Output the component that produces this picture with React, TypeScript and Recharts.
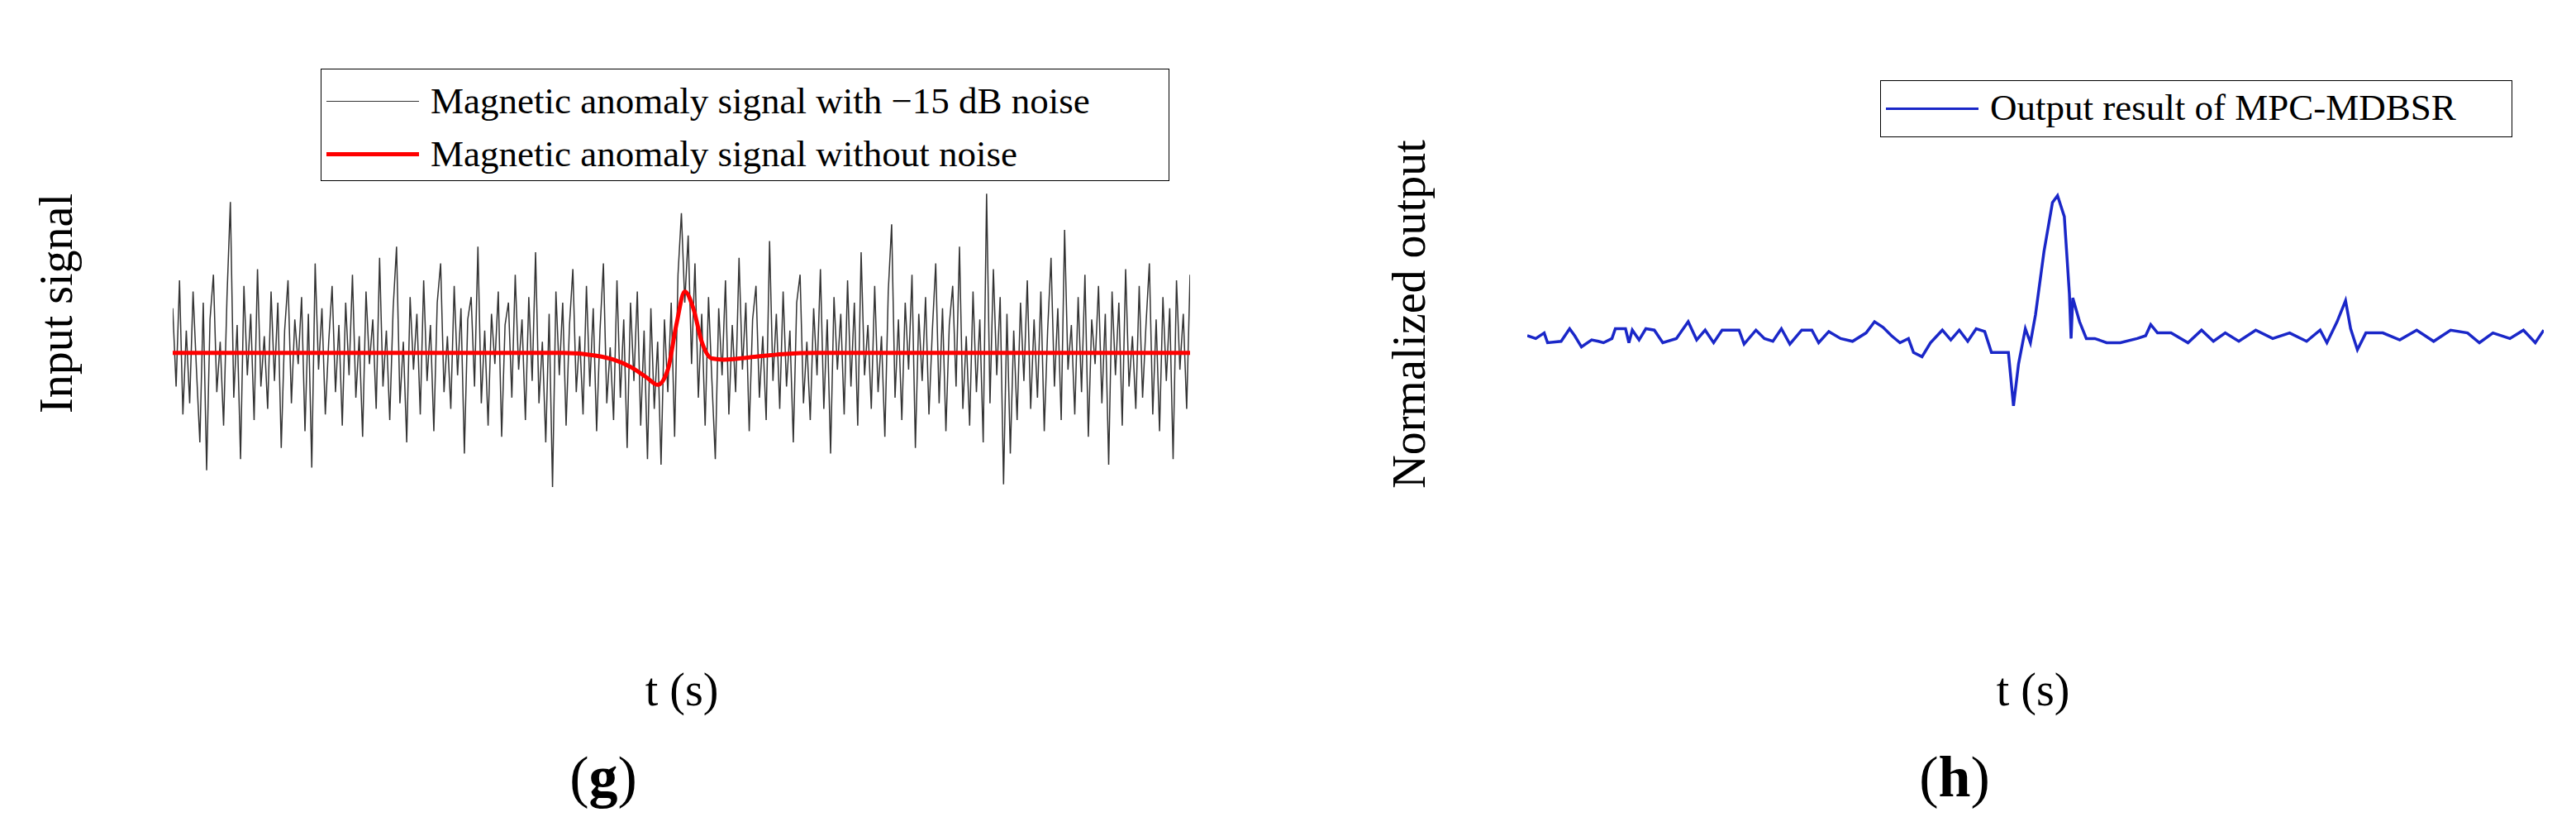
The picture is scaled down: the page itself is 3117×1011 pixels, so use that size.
import { LineChart, Line, XAxis, YAxis } from 'recharts';

// noisy input, sampled every 0.02 s from t = 2 s
const noiseValues = [
  0.8,-0.6,1.3,-1.1,0.4,-0.9,1.1,-0.3,-1.6,0.9,
  -2.1,0.6,1.4,-0.7,0.2,-1.3,1.0,2.7,-0.8,0.5,
  -1.9,1.2,-0.4,0.7,-1.2,1.5,-0.6,0.3,-1.0,1.1,
  -0.5,0.9,-1.7,0.4,1.3,-0.9,0.6,-0.2,1.0,-1.4,
  0.7,-2.05,1.6,-0.3,0.8,-1.1,0.2,1.2,-0.7,0.5,
  -1.3,0.9,-0.4,1.4,-0.8,0.3,-1.5,1.1,-0.2,0.6,
  -1.0,1.7,-0.6,0.4,-1.2,0.8,1.9,-0.9,0.2,-1.6,
  1.0,-0.3,0.7,-1.1,1.3,-0.5,0.5,-1.4,0.9,1.6,
  -0.7,0.3,-1.0,1.2,-0.4,0.8,-1.8,0.6,1.0,-0.6,
  1.9,-0.9,0.4,-1.3,0.7,-0.2,1.1,-1.5,0.5,0.9,
  -0.8,1.4,-0.3,0.6,-1.2,1.0,-0.5,1.8,-0.9,0.2,
  -1.6,0.7,-2.4,1.1,-0.4,0.9,-1.3,0.5,1.5,-0.7,
  0.3,-1.1,1.2,-0.6,0.8,-1.4,0.4,1.6,-0.9,0.1,
  -1.2,1.3,-0.8,0.6,-1.7,0.9,-0.5,1.1,-1.3,0.4,
  -1.9,0.8,-1.0,0.2,-2.0,0.6,-0.7,0.9,-1.5,1.4,
  2.5,0.9,2.1,-0.2,1.6,-0.8,0.7,-1.3,1.0,-0.5,
  -1.9,0.8,-0.4,1.3,-1.1,0.5,-0.7,1.7,-0.3,0.9,
  -1.4,0.6,1.2,-0.8,0.3,-1.2,2.0,-0.5,0.7,-1.0,
  1.1,-0.6,0.4,-1.6,0.9,1.4,-0.9,0.2,-1.2,0.8,
  -0.4,1.5,-1.0,0.6,-1.8,1.0,-0.3,0.7,-1.1,1.3,
  -0.6,0.9,-1.3,1.8,-0.4,0.5,-1.0,1.2,-0.7,0.3,
  -1.5,1.1,2.3,-0.8,0.6,-1.2,0.9,-0.3,1.4,-1.7,
  0.7,-0.5,1.0,-1.1,0.4,1.6,-0.9,0.8,-1.4,0.5,
  1.2,-0.6,1.9,-1.0,0.3,-1.3,1.1,-0.7,0.6,-1.6,
  2.85,-0.9,1.5,-0.4,1.0,-2.35,0.7,-1.8,0.4,-1.2,
  0.9,-0.5,1.3,-1.0,0.6,-0.8,1.1,-1.4,0.4,1.7,
  -0.6,0.8,-1.2,2.2,-0.3,0.5,-1.1,1.0,-0.7,1.4,
  -1.5,0.6,-0.2,1.2,-0.9,0.7,-2.0,1.1,-0.4,0.9,
  -1.3,1.5,-0.6,0.3,-1.0,1.2,-0.8,0.5,1.6,-1.1,
  0.6,-1.4,1.0,-0.5,0.8,-1.9,1.3,-0.3,0.7,-1.0,
  1.4,
];

const cleanT = [2, 4.3, 4.5, 4.6, 4.7, 4.8, 4.86, 4.92, 4.97, 5.02, 5.07, 5.12, 5.18, 5.25, 5.4, 5.6, 5.8, 8];
const cleanV = [0, 0, -0.05, -0.12, -0.25, -0.45, -0.57, -0.3, 0.5, 1.1, 0.8, 0.2, -0.1, -0.12, -0.08, -0.02, 0, 0];

const outT = [2.0,2.05,2.1,2.12,2.2,2.25,2.28,2.32,2.38,2.42,2.45,2.5,2.52,2.58,2.6,2.62,2.66,2.7,2.75,2.8,2.88,2.95,3.0,3.05,3.1,3.15,3.25,3.28,3.35,3.4,3.45,3.5,3.55,3.62,3.68,3.72,3.78,3.85,3.92,4.0,4.05,4.1,4.15,4.2,4.25,4.28,4.33,4.38,4.45,4.5,4.55,4.6,4.65,4.7,4.74,4.8,4.84,4.87,4.9,4.94,4.97,5.0,5.05,5.1,5.13,5.17,5.2,5.21,5.22,5.26,5.3,5.35,5.42,5.5,5.6,5.65,5.68,5.72,5.8,5.9,5.98,6.05,6.12,6.2,6.3,6.4,6.5,6.6,6.68,6.72,6.78,6.83,6.86,6.9,6.95,7.05,7.15,7.25,7.35,7.45,7.55,7.62,7.7,7.8,7.88,7.95,8.0];
const outV = [0,-0.02,0.02,-0.05,-0.04,0.05,0,-0.08,-0.03,-0.04,-0.05,-0.02,0.05,0.05,-0.05,0.04,-0.03,0.05,0.04,-0.05,-0.02,0.1,-0.03,0.04,-0.05,0.04,0.04,-0.06,0.04,-0.02,-0.04,0.05,-0.06,0.04,0.04,-0.05,0.03,-0.02,-0.04,0.02,0.1,0.06,0,-0.05,-0.02,-0.12,-0.15,-0.05,0.04,-0.03,0.04,-0.04,0.05,0.03,-0.12,-0.12,-0.12,-0.5,-0.2,0.05,-0.05,0.15,0.6,0.95,1.0,0.85,0.3,-0.02,0.27,0.1,-0.02,-0.02,-0.05,-0.05,-0.02,0,0.08,0.02,0.02,-0.05,0.04,-0.04,0.02,-0.04,0.04,-0.02,0.02,-0.04,0.04,-0.05,0.1,0.25,0.05,-0.1,0.02,0.02,-0.03,0.04,-0.04,0.04,0.02,-0.05,0.02,-0.02,0.04,-0.05,0.04];

const xTicks = [2, 3, 4, 5, 6, 7, 8];
const leftYTicks = [-4, -3, -2, -1, 0, 1, 2, 3, 4, 5];
const rightYTicks = [-2, -1.5, -1, -0.5, 0, 0.5, 1, 1.5, 2];

const noiseData = noiseValues.map((v, i) => ({ t: 2 + i * 0.02, v }));
const cleanData = cleanT.map((t, i) => ({ t, v: cleanV[i] }));
const outData = outT.map((t, i) => ({ t, v: outV[i] }));

const FONT = '"Liberation Serif", "DejaVu Serif", serif';
const minus = (n: number) => (n < 0 ? '\u2212' + Math.abs(n) : String(n));

function makeTick(side: 'bottom' | 'top' | 'left' | 'right', isMajor: (v: number) => boolean, showLabel: boolean) {
  return (props: any) => {
    const { x, y, payload } = props;
    const v = payload.value;
    const len = isMajor(v) ? 14 : 8;
    let line;
    if (side === 'bottom') line = <line x1={x} y1={y} x2={x} y2={y - len} stroke="#000" strokeWidth={3} />;
    else if (side === 'top') line = <line x1={x} y1={y} x2={x} y2={y + len} stroke="#000" strokeWidth={3} />;
    else if (side === 'left') line = <line x1={x} y1={y} x2={x + len} y2={y} stroke="#000" strokeWidth={3} />;
    else line = <line x1={x} y1={y} x2={x - len} y2={y} stroke="#000" strokeWidth={3} />;
    let label = null;
    if (showLabel && isMajor(v)) {
      if (side === 'bottom')
        label = <text x={x} y={y + 62} textAnchor="middle" fontSize={54} fontFamily={FONT} fill="#000">{minus(v)}</text>;
      else
        label = <text x={x - 16} y={y + 14} textAnchor="end" fontSize={54} fontFamily={FONT} fill="#000">{minus(v)}</text>;
    }
    return <g>{line}{label}</g>;
  };
}

const evenX = (v: number) => v % 2 === 0;
const evenY = (v: number) => Math.abs(v % 2) === 0;
const intY = (v: number) => Number.isInteger(v);
const axisLine = { stroke: '#000', strokeWidth: 3 };

const abs = (s: any) => ({ position: 'absolute' as const, fontFamily: FONT, color: '#000', whiteSpace: 'nowrap' as const, ...s });

export default function App() {
  return (
    <div style={{ position: 'absolute', left: 0, top: 0, width: 3117, height: 1011, background: '#fff' }}>
      <div style={abs({ left: 0, top: 0 })}>
        <LineChart width={1500} height={1011} margin={{ left: 209, right: 60, top: 55, bottom: 280 }}>
          <XAxis xAxisId={0} dataKey="t" type="number" domain={[2, 8]} ticks={xTicks} allowDataOverflow height={0} tickSize={0} tickMargin={0} tickLine={false} axisLine={axisLine} tick={makeTick('bottom', evenX, true)} />
          <XAxis xAxisId="top" orientation="top" dataKey="t" type="number" domain={[2, 8]} ticks={xTicks} height={0} tickSize={0} tickMargin={0} tickLine={false} axisLine={axisLine} tick={makeTick('top', evenX, false)} />
          <YAxis yAxisId={0} type="number" domain={[-4.5, 5.5]} ticks={leftYTicks} allowDataOverflow width={0} tickSize={0} tickMargin={0} tickLine={false} axisLine={axisLine} tick={makeTick('left', evenY, true)} />
          <YAxis yAxisId="right" orientation="right" type="number" domain={[-4.5, 5.5]} ticks={leftYTicks} allowDataOverflow width={0} tickSize={0} tickMargin={0} tickLine={false} axisLine={axisLine} tick={makeTick('right', evenY, false)} />
          <Line data={noiseData} dataKey="v" type="linear" stroke="#333" strokeWidth={1.5} dot={false} isAnimationActive={false} />
          <Line data={cleanData} dataKey="v" type="monotone" stroke="#ff0000" strokeWidth={5} dot={false} isAnimationActive={false} />
        </LineChart>
      </div>
      <div style={abs({ left: 388, top: 83, width: 1027, height: 136, border: '1.5px solid #000', background: '#fff', boxSizing: 'border-box' })}>
        <div style={abs({ left: 6, top: 38, width: 112, height: 0, borderTop: '1.5px solid #333' })} />
        <div style={abs({ left: 132, top: 12, fontSize: 45 })}>Magnetic anomaly signal with −15 dB noise</div>
        <div style={abs({ left: 6, top: 100, width: 112, height: 0, borderTop: '5px solid #ff0000' })} />
        <div style={abs({ left: 132, top: 76, fontSize: 45 })}>Magnetic anomaly signal without noise</div>
      </div>
      <div style={abs({ left: 68, top: 367, fontSize: 56, transform: 'translate(-50%, -50%) rotate(-90deg)' })}>Input signal</div>
      <div style={abs({ left: 825, top: 834, fontSize: 56, transform: 'translate(-50%, -50%)' })}>t (s)</div>
      <div style={abs({ left: 730, top: 940, fontSize: 70, transform: 'translate(-50%, -50%)' })}>(<b>g</b>)</div>

      <div style={abs({ left: 1560, top: 0 })}>
        <LineChart width={1557} height={1011} margin={{ left: 288, right: 39, top: 67, bottom: 266 }}>
          <XAxis xAxisId={0} dataKey="t" type="number" domain={[2, 8]} ticks={xTicks} allowDataOverflow height={0} tickSize={0} tickMargin={0} tickLine={false} axisLine={axisLine} tick={makeTick('bottom', evenX, true)} />
          <XAxis xAxisId="top" orientation="top" dataKey="t" type="number" domain={[2, 8]} ticks={xTicks} height={0} tickSize={0} tickMargin={0} tickLine={false} axisLine={axisLine} tick={makeTick('top', evenX, false)} />
          <YAxis yAxisId={0} type="number" domain={[-2, 2]} ticks={rightYTicks} allowDataOverflow width={0} tickSize={0} tickMargin={0} tickLine={false} axisLine={axisLine} tick={makeTick('left', intY, true)} />
          <YAxis yAxisId="right" orientation="right" type="number" domain={[-2, 2]} ticks={rightYTicks} allowDataOverflow width={0} tickSize={0} tickMargin={0} tickLine={false} axisLine={axisLine} tick={makeTick('right', intY, false)} />
          <Line data={outData} dataKey="v" type="linear" stroke="#1a27c8" strokeWidth={3.5} dot={false} isAnimationActive={false} />
        </LineChart>
      </div>
      <div style={abs({ left: 2275, top: 97, width: 765, height: 69, border: '1.5px solid #000', background: '#fff', boxSizing: 'border-box' })}>
        <div style={abs({ left: 6, top: 32, width: 112, height: 0, borderTop: '3.5px solid #1a27c8' })} />
        <div style={abs({ left: 132, top: 6, fontSize: 45 })}>Output result of MPC-MDBSR</div>
      </div>
      <div style={abs({ left: 1705, top: 380, fontSize: 56, transform: 'translate(-50%, -50%) rotate(-90deg)' })}>Normalized output</div>
      <div style={abs({ left: 2460, top: 834, fontSize: 56, transform: 'translate(-50%, -50%)' })}>t (s)</div>
      <div style={abs({ left: 2365, top: 940, fontSize: 70, transform: 'translate(-50%, -50%)' })}>(<b>h</b>)</div>
    </div>
  );
}
